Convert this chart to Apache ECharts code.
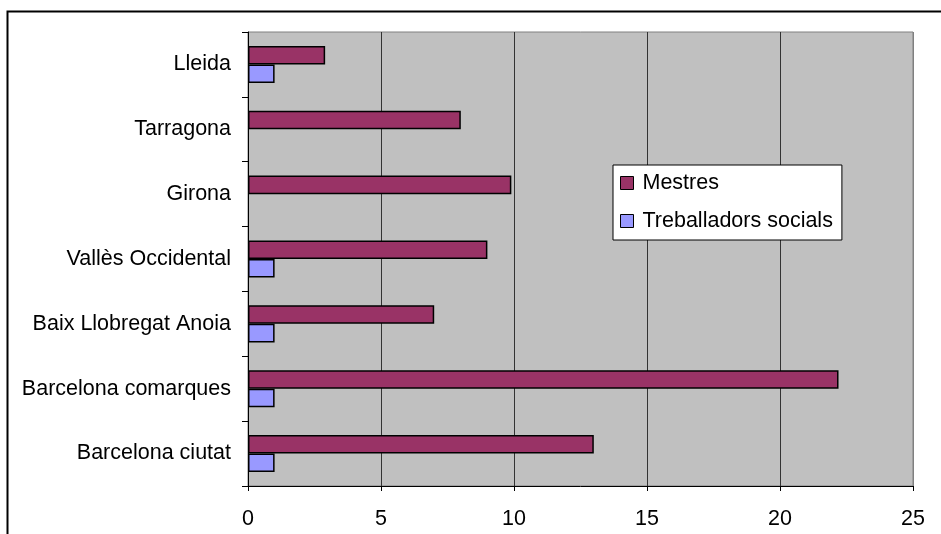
<!DOCTYPE html>
<html>
<head>
<meta charset="utf-8">
<script src="https://cdn.jsdelivr.net/npm/echarts@6/dist/echarts.min.js"></script>
<style>
  html, body { margin: 0; padding: 0; background: #ffffff; }
  #chart { width: 941px; height: 534px; }
</style>
</head>
<body>
<div id="chart"></div>
<script>
// Regions, listed bottom to top along the category axis
const categories = ['Barcelona ciutat', 'Barcelona comarques', 'Baix Llobregat Anoia', 'Vallès Occidental', 'Girona', 'Tarragona', 'Lleida'];
const mestres = [13, 22.2, 7, 9, 9.9, 8, 2.9];
const treballadors = [1, 1, 1, 1, null, null, 1];
const xTicks = [0, 5, 10, 15, 20, 25];

const FONT = "'Liberation Sans', Arial, sans-serif";
const FS = 21.5;
const chart = echarts.init(document.getElementById('chart'), null, { renderer: 'canvas' });

chart.setOption({
  animation: false,
  backgroundColor: '#ffffff',
  textStyle: { fontFamily: FONT, color: '#000' },
  graphic: [{
    type: 'rect',
    silent: true,
    shape: { x: 7.5, y: 11.5, width: 1200, height: 1200 },
    style: { fill: 'none', stroke: '#000', lineWidth: 2 },
    z: 100
  }],
  grid: {
    left: 248, top: 32, right: 28, bottom: 48,
    show: true,
    backgroundColor: '#C0C0C0',
    borderColor: '#808080',
    borderWidth: 1
  },
  legend: {
    orient: 'vertical',
    left: 613, top: 165,
    data: ['Mestres', 'Treballadors socials'],
    backgroundColor: '#ffffff',
    borderColor: '#000',
    borderWidth: 1,
    padding: [6, 9, 7, 7],
    itemGap: 14,
    itemWidth: 13,
    itemHeight: 13,
    icon: 'rect',
    itemStyle: { borderColor: '#000', borderWidth: 1 },
    textStyle: { fontFamily: FONT, fontSize: FS, color: '#000', lineHeight: 24, padding: [0, 0, 0, 4] }
  },
  xAxis: {
    type: 'value',
    min: xTicks[0],
    max: xTicks[xTicks.length - 1],
    interval: xTicks[1] - xTicks[0],
    axisLine: { show: true, lineStyle: { color: '#000', width: 1 } },
    axisTick: { show: true, length: 5, lineStyle: { color: '#000' } },
    axisLabel: { fontFamily: FONT, fontSize: FS, color: '#000', margin: 22 },
    splitLine: { show: true, lineStyle: { color: ['#333333', '#333333', '#333333', '#333333', '#333333', '#808080'], width: 1 } }
  },
  yAxis: {
    type: 'category',
    data: categories,
    axisLine: { show: true, lineStyle: { color: '#000', width: 1 } },
    axisTick: { show: true, length: 6, lineStyle: { color: '#000' } },
    axisLabel: { fontFamily: FONT, fontSize: FS, color: '#000', margin: 17 },
    splitLine: { show: false }
  },
  series: [
    {
      name: 'Mestres',
      type: 'bar',
      data: mestres,
      barGap: '0%',
      barCategoryGap: '42.86%',
      itemStyle: { color: '#993366', borderColor: '#000', borderWidth: 1.5 }
    },
    {
      name: 'Treballadors socials',
      type: 'bar',
      data: treballadors,
      barGap: '0%',
      barCategoryGap: '42.86%',
      itemStyle: { color: '#9999FF', borderColor: '#000', borderWidth: 1.5 }
    }
  ]
});
</script>
</body>
</html>
